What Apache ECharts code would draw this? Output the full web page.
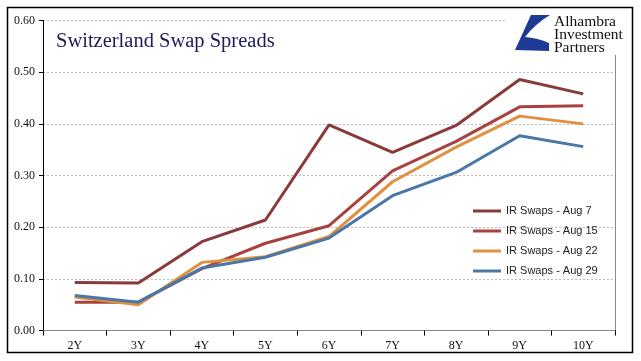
<!DOCTYPE html>
<html>
<head>
<meta charset="utf-8">
<script src="https://cdn.jsdelivr.net/npm/echarts@6/dist/echarts.min.js"></script>
<style>
html,body{margin:0;padding:0;background:#fff;}
#chart{width:641px;height:361px;}
</style>
</head>
<body>
<div id="chart"></div>
<script>
var categories = ['2Y','3Y','4Y','5Y','6Y','7Y','8Y','9Y','10Y'];
var aug7  = [0.093,0.092,0.172,0.214,0.398,0.345,0.397,0.486,0.458];
var aug15 = [0.055,0.055,0.120,0.169,0.203,0.309,0.366,0.433,0.435];
var aug22 = [0.065,0.050,0.132,0.143,0.182,0.288,0.355,0.415,0.400];
var aug29 = [0.068,0.055,0.121,0.142,0.179,0.261,0.306,0.377,0.356];
var seriesNames = ['IR Swaps - Aug 7','IR Swaps - Aug 15','IR Swaps - Aug 22','IR Swaps - Aug 29'];
var seriesData = [aug7, aug15, aug22, aug29];
var seriesColors = ['#893B3B','#A8423F','#E0913F','#4A76A8'];
var yTicks = ['0.00','0.10','0.20','0.30','0.40','0.50','0.60'];

var chart = echarts.init(document.getElementById('chart'), null, {renderer:'canvas'});
var serif = '"Liberation Serif", "Times New Roman", serif';
var sans = '"Liberation Sans", Arial, sans-serif';

var option = {
  animation: false,
  backgroundColor: '#fff',
  title: {
    text: 'Switzerland Swap Spreads',
    left: 51, top: 26,
    textStyle: {fontFamily: serif, fontSize: 20.5, fontWeight: 'normal', color: '#1C1C5C'}
  },
  legend: {
    orient: 'vertical',
    left: 468, top: 199,
    itemWidth: 28, itemHeight: 3, itemGap: 6,
    icon: 'rect',
    data: seriesNames,
    textStyle: {fontFamily: sans, fontSize: 11, color: '#222', lineHeight: 14}
  },
  grid: {left: 43, right: 26, top: 20.5, bottom: 30.4, containLabel: false},
  xAxis: [{
    type: 'category',
    data: categories,
    boundaryGap: true,
    axisLine: {lineStyle: {color: '#000', width: 1}},
    axisTick: {show: true, length: 5, interval: 0, lineStyle: {color: '#000'}},
    axisLabel: {fontFamily: serif, fontSize: 12, color: '#111', margin: 9},
    splitLine: {show: false}
  },{
    type: 'category',
    data: categories,
    position: 'top',
    axisLine: {lineStyle: {color: '#8a8a8a', width: 1}},
    axisTick: {show: false},
    axisLabel: {show: false},
    splitLine: {show: false}
  }],
  yAxis: [{
    type: 'value',
    min: 0, max: 0.6, interval: 0.1,
    axisLine: {show: true, lineStyle: {color: '#000', width: 1}},
    axisTick: {show: true, length: 4, lineStyle: {color: '#000'}},
    axisLabel: {fontFamily: serif, fontSize: 12, color: '#111', margin: 8,
      formatter: function(v){ return yTicks[Math.round(v*10)]; }},
    splitLine: {show: true, lineStyle: {color: '#bdbdbd', type: [2,2], width: 1}}
  },{
    type: 'value',
    min: 0, max: 0.6, interval: 0.1,
    position: 'right',
    axisLine: {show: true, lineStyle: {color: '#8a8a8a', width: 1}},
    axisTick: {show: false},
    axisLabel: {show: false},
    splitLine: {show: false}
  }],
  series: seriesNames.map(function(n, i){
    return {
      name: n, type: 'line', data: seriesData[i],
      symbol: 'none', color: seriesColors[i],
      lineStyle: {width: 3, color: seriesColors[i]},
      z: 2 + i
    };
  }),
  graphic: [
    {type: 'rect', z: 100, shape: {x: 506, y: 9, width: 122, height: 46}, style: {fill: '#fff'}},
    {type: 'polygon', z: 101, shape: {points: [[531,15],[550,15],[542.8,19.75],[536.25,25],[530.3,30.75],[525,37],[531.4,37.75],[537.5,39],[543.4,40.75],[549,43],[549,51],[515,50]]},
      style: {fill: '#1F3A94'}},
    {type: 'text', z: 101, left: 554, top: 14, style: {text: 'Alhambra', font: '15.5px ' + serif, fill: '#111'}},
    {type: 'text', z: 101, left: 554, top: 27, style: {text: 'Investment', font: '15.5px ' + serif, fill: '#111'}},
    {type: 'text', z: 101, left: 554, top: 40, style: {text: 'Partners', font: '15.5px ' + serif, fill: '#111'}},
    {type: 'rect', z: 102, shape: {x: 7.5, y: 7.5, width: 625, height: 345}, style: {fill: 'none', stroke: '#000', lineWidth: 1.5}}
  ]
};
chart.setOption(option);
</script>
</body>
</html>
